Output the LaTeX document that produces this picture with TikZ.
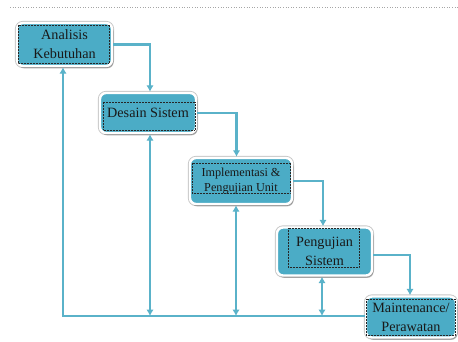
\documentclass[tikz,border=0pt]{standalone}
\usepackage{fontspec}
\setmainfont{Liberation Serif}
\usetikzlibrary{shadows,arrows.meta}
\definecolor{stepblue}{HTML}{4BACC6}
\definecolor{flowline}{HTML}{5AB2C9}

\begin{document}
\begin{tikzpicture}[x=1pt,y=-1pt,
  stage/.style={draw=white, line width=2.4pt, fill=stepblue, rounded corners=6pt,
    align=center, inner sep=0pt, text=black!90,
    preaction={draw=black!22, line width=4.2pt},
    drop shadow={shadow xshift=1.5pt, shadow yshift=-2.4pt, fill=black, opacity=0.25}},
  bigtext/.style={font=\fontsize{14.2}{19}\selectfont},
  smalltext/.style={font=\fontsize{12.2}{14.5}\selectfont},
  flow/.style={draw=flowline, line width=2.3pt, -{Latex[length=6.5pt,width=7.5pt]}},
  both/.style={draw=flowline, line width=2.3pt, {Latex[length=6.5pt,width=7.5pt]}-{Latex[length=6.5pt,width=7.5pt]}},
  frame/.style={draw=black!85, densely dotted, line width=0.5pt}]

\useasboundingbox (0,0) rectangle (458,342);

% header rule
\draw[gray!70, dotted, line width=0.6pt] (10,7) -- (458,7);

% the five stages
\node[stage, bigtext, minimum width=95pt, minimum height=43pt] (s1) at (64.5,44.5) {Analisis\\Kebutuhan};
\node[stage, bigtext, minimum width=96pt, minimum height=40pt] (s2) at (148,113) {Desain Sistem};
\node[stage, smalltext, minimum width=102pt, minimum height=46pt] (s3) at (241,181) {Implementasi \&\\Pengujian Unit};
\node[stage, bigtext, minimum width=95pt, minimum height=48pt] (s4) at (324.5,251.5) {Pengujian\\Sistem};
\node[stage, bigtext, minimum width=90pt, minimum height=41pt] (s5) at (411,317) {Maintenance/\\Perawatan};

% dotted text-box outlines
\draw[frame] (18,25) rectangle (109,63);
\draw[frame] (103,102) rectangle (195,130);
\draw[frame] (192,163) rectangle (290,193);
\draw[frame] (288,228) rectangle (359,267);
\draw[frame] (366,299) rectangle (455,335);

% cascade from stage to stage
\draw[flow] (s1.east) -| ([xshift=2pt]s2.north);
\draw[flow] (s2.east) -| ([xshift=-4.5pt]s3.north);
\draw[flow] (s3.east) -| ([xshift=-1.5pt]s4.north);
\draw[flow] ([yshift=-3.5pt]s4.east) -| ([xshift=-1pt]s5.north);

% feedback bus
\coordinate (c1) at (63,316);
\coordinate (c2) at (150,316);
\coordinate (c3) at (236,316);
\coordinate (c4) at (322,316);
\draw[flow] (s5.west |- c1) -- (c1) -- (c1 |- s1.south);
\draw[both] (c2 |- s2.south) -- (c2);
\draw[both] (c3 |- s3.south) -- (c3);
\draw[both] (c4 |- s4.south) -- (c4);

\end{tikzpicture}
\end{document}
